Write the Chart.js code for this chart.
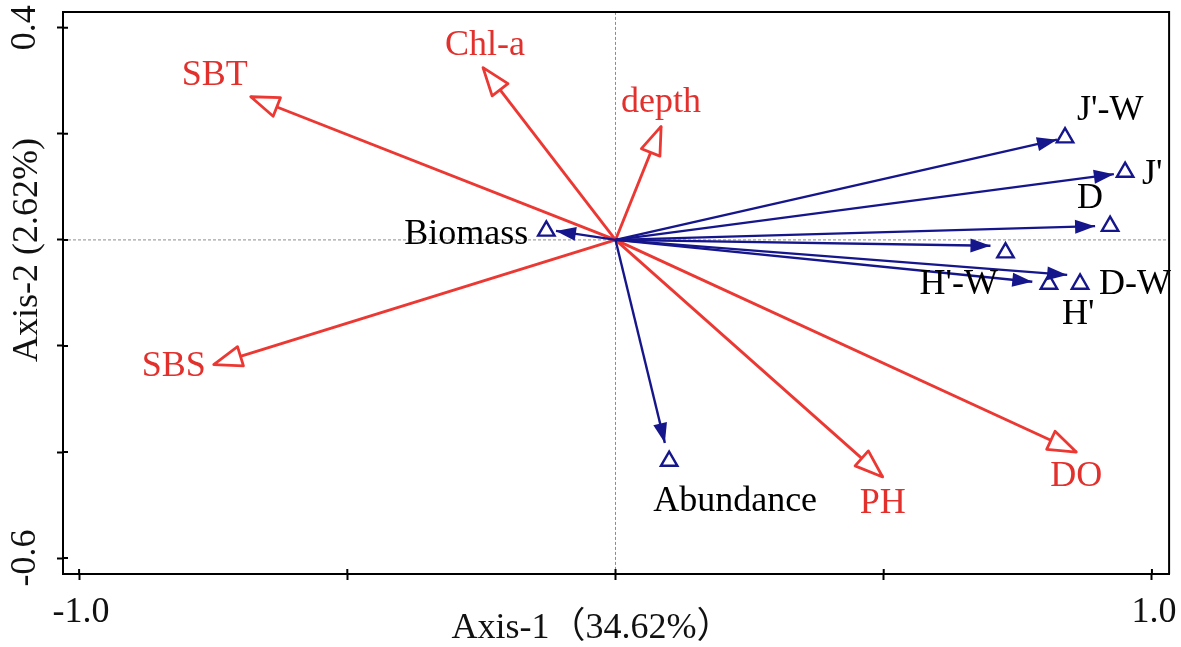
<!DOCTYPE html>
<html><head><meta charset="utf-8">
<script src="https://cdn.jsdelivr.net/npm/chart.js@4.4.1/dist/chart.umd.min.js"></script>
<style>html,body{margin:0;padding:0;background:#fff;overflow:hidden}#wrap{width:1181px;height:647px;position:relative}</style>
</head><body><div id="wrap"><canvas id="c"></canvas></div>
<script>
// ---- data ----
const envNames = ['SBT','Chl-a','depth','SBS','PH','DO'];
const envX = [-0.680,-0.247,0.085,-0.749,0.498,0.859];
const envY = [0.270,0.325,0.214,-0.235,-0.447,-0.400];
const spNames = ["J'-W","J'","D","H'-W","H'","D-W","Biomass","Abundance"];
const spArrowX = [0.823,0.929,0.894,0.699,0.777,0.842,-0.111,0.092];
const spArrowY = [0.189,0.124,0.026,-0.011,-0.079,-0.066,0.017,-0.383];
const spPointX = [0.838,0.950,0.922,0.727,0.808,0.866,-0.129,0.100];
const spPointY = [0.193,0.128,0.026,-0.024,-0.083,-0.083,0.017,-0.417];
const xTickValues = [-1.0,-0.5,0,0.5,1.0];
const xTickLabels = ['-1.0','','','','1.0'];
const yTickValues = [0.4,0.2,0,-0.2,-0.4,-0.6];
const yTickLabels = ['0.4','','','','','-0.6'];
const xTitle = 'Axis-1\uFF0834.62%\uFF09';
const yTitle = 'Axis-2 (2.62%)';

// ---- layout / style ----
const RED_LINE = '#ec3833', RED_TEXT = '#e2302d', NAVY = '#16168c';
const FONT = "'Liberation Serif','Times New Roman','Noto Sans CJK SC',serif";
const FS = 36;
const envLabelOff = [[-69,-12],[-38,-13],[-40,-14],[-72,11],[-23,36],[-26,34]];
const spLabelOff = [[12,-18,'left'],[17,12,'left'],[-33,-18,'left'],[-86,41,'left'],[13,40,'left'],[19,10,'left'],[-18,13,'right'],[-16,50,'left']];

const datasets = [];
spNames.forEach((n,i)=>{
  datasets.push({type:'line', label:n, head:'filled', data:[{x:0,y:0},{x:spArrowX[i],y:spArrowY[i]}],
    borderColor:NAVY, borderWidth:2.4, pointRadius:0, fill:false, tension:0});
});
envNames.forEach((n,i)=>{
  datasets.push({type:'line', label:n, head:'open', data:[{x:0,y:0},{x:envX[i],y:envY[i]}],
    borderColor:RED_LINE, borderWidth:2.9, pointRadius:0, fill:false, tension:0});
});
datasets.unshift({type:'scatter', label:'markers', data:spPointX.map((v,i)=>({x:v,y:spPointY[i]})),
  pointStyle:'triangle', pointRadius:9.5, pointBorderWidth:2.4, borderColor:NAVY, backgroundColor:'rgba(255,255,255,0)'});

function head(ctx,x1,y1,x2,y2,len,half,fill,stroke,lw){
  const a=Math.atan2(y2-y1,x2-x1);
  const bx=x2-len*Math.cos(a), by=y2-len*Math.sin(a);
  const px=-Math.sin(a)*half, py=Math.cos(a)*half;
  ctx.beginPath(); ctx.moveTo(x2,y2); ctx.lineTo(bx+px,by+py); ctx.lineTo(bx-px,by-py); ctx.closePath();
  ctx.fillStyle=fill; ctx.fill();
  if(stroke){ctx.strokeStyle=stroke; ctx.lineWidth=lw; ctx.lineJoin='round'; ctx.stroke();}
}

const biplot = {
  id:'biplot',
  beforeDatasetsDraw(chart){
    const {ctx, chartArea:a, scales:{x,y}} = chart;
    const x0=x.getPixelForValue(0), y0=y.getPixelForValue(0);
    ctx.save();
    ctx.strokeStyle='#8c8c8c'; ctx.lineWidth=1; ctx.setLineDash([3,2]);
    ctx.beginPath(); ctx.moveTo(x0,a.top); ctx.lineTo(x0,a.bottom);
    ctx.moveTo(a.left,y0); ctx.lineTo(a.right,y0); ctx.stroke();
    ctx.restore();
  },
  afterDatasetsDraw(chart){
    const {ctx, scales:{x,y}} = chart;
    ctx.save();
    chart.data.datasets.forEach((ds,i)=>{
      if(!ds.head) return;
      const m=chart.getDatasetMeta(i); const p0=m.data[0], p1=m.data[1];
      if(ds.head==='open') head(ctx,p0.x,p0.y,p1.x,p1.y,28,10,'#fff',RED_LINE,2.8);
      else head(ctx,p0.x,p0.y,p1.x,p1.y,20,7,NAVY,null,0);
    });
    ctx.font = FS+'px '+FONT; ctx.textBaseline='alphabetic';
    envNames.forEach((n,i)=>{
      ctx.fillStyle=RED_TEXT; ctx.textAlign='left';
      ctx.fillText(n, x.getPixelForValue(envX[i])+envLabelOff[i][0], y.getPixelForValue(envY[i])+envLabelOff[i][1]);
    });
    spNames.forEach((n,i)=>{
      ctx.fillStyle='#000'; ctx.textAlign=spLabelOff[i][2];
      ctx.fillText(n, x.getPixelForValue(spPointX[i])+spLabelOff[i][0], y.getPixelForValue(spPointY[i])+spLabelOff[i][1]);
    });
    ctx.restore();
  },
  afterDraw(chart){
    const {ctx, chartArea:a, scales:{x,y}} = chart;
    ctx.save();
    ctx.strokeStyle='#000'; ctx.lineWidth=2;
    ctx.beginPath(); ctx.moveTo(a.left,a.top); ctx.lineTo(a.right,a.top); ctx.lineTo(a.right,a.bottom); ctx.stroke();
    ctx.beginPath();
    xTickValues.forEach(v=>{const px=x.getPixelForValue(v); ctx.moveTo(px,a.bottom); ctx.lineTo(px,a.bottom-5);});
    yTickValues.forEach(v=>{const py=y.getPixelForValue(v); ctx.moveTo(a.left,py); ctx.lineTo(a.left+5,py);});
    ctx.stroke();
    ctx.fillStyle='#111'; ctx.font=FS+'px '+FONT;
    ctx.textAlign='center'; ctx.textBaseline='alphabetic';
    ctx.fillText(xTitle, 592, 638);
    ctx.translate(28,250); ctx.rotate(-Math.PI/2); ctx.textBaseline='middle';
    ctx.fillText(yTitle, 0, 0);
    ctx.restore();
  }
};

new Chart(document.getElementById('c'), {
  data:{datasets},
  options:{
    responsive:true, maintainAspectRatio:false, animation:false, devicePixelRatio:1,
    layout:{padding:{top:9,right:10,left:0,bottom:0}},
    plugins:{legend:{display:false}, tooltip:{enabled:false}},
    scales:{
      x:{type:'linear', min:-1.030, max:1.032,
        afterBuildTicks:s=>{s.ticks=xTickValues.map(v=>({value:v}));},
        afterFit:s=>{s.height=73; s.paddingLeft=0; s.paddingRight=0;},
        ticks:{callback:(v,i)=>xTickLabels[i], autoSkip:false, maxRotation:0, padding:11, labelOffset:2, color:'#111', font:{family:FONT,size:FS}},
        grid:{drawOnChartArea:false, tickLength:6, tickColor:'#000', tickWidth:2},
        border:{color:'#000', width:2}},
      y:{type:'linear', min:-0.630, max:0.430,
        afterBuildTicks:s=>{s.ticks=yTickValues.map(v=>({value:v}));},
        afterFit:s=>{s.width=63; s.paddingTop=0; s.paddingBottom=0;},
        ticks:{callback:(v,i)=>yTickLabels[i], autoSkip:false, minRotation:90, maxRotation:90, crossAlign:'center', padding:3, labelOffset:0, color:'#111', font:{family:FONT,size:FS}},
        grid:{drawOnChartArea:false, tickLength:6, tickColor:'#000', tickWidth:2},
        border:{color:'#000', width:2}}
    }
  },
  plugins:[biplot]
});
</script></body></html>
